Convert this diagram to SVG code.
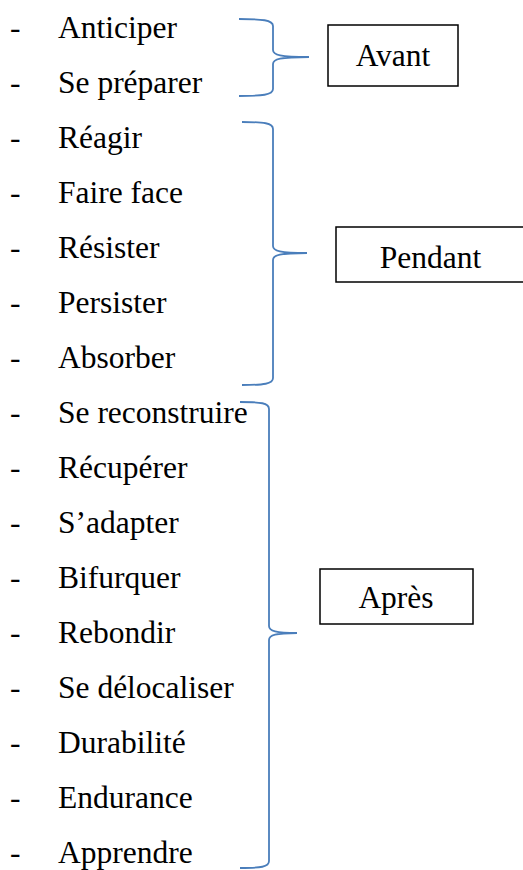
<svg xmlns="http://www.w3.org/2000/svg" width="523" height="870" viewBox="0 0 523 870">
<style>
text{font-family:"Liberation Serif","Times New Roman",serif;font-size:31.5px;fill:#000}
.box{fill:#fff;stroke:#000;stroke-width:1.5}
.brace{fill:none;stroke:#4a7ebb;stroke-width:1.8}
.c{text-anchor:middle}
</style>
<rect width="523" height="870" fill="#fff"/>
<g id="list">
<g id="item-anticiper"><text x="10" y="38">-</text><text x="58" y="38">Anticiper</text></g>
<g id="item-se-preparer"><text x="10" y="93">-</text><text x="58" y="93">Se préparer</text></g>
<g id="item-reagir"><text x="10" y="148">-</text><text x="58" y="148">Réagir</text></g>
<g id="item-faire-face"><text x="10" y="203">-</text><text x="58" y="203">Faire face</text></g>
<g id="item-resister"><text x="10" y="258">-</text><text x="58" y="258">Résister</text></g>
<g id="item-persister"><text x="10" y="313">-</text><text x="58" y="313">Persister</text></g>
<g id="item-absorber"><text x="10" y="368">-</text><text x="58" y="368">Absorber</text></g>
<g id="item-se-reconstruire"><text x="10" y="423">-</text><text x="58" y="423">Se reconstruire</text></g>
<g id="item-recuperer"><text x="10" y="478">-</text><text x="58" y="478">Récupérer</text></g>
<g id="item-s-adapter"><text x="10" y="533">-</text><text x="58" y="533">S’adapter</text></g>
<g id="item-bifurquer"><text x="10" y="588">-</text><text x="58" y="588">Bifurquer</text></g>
<g id="item-rebondir"><text x="10" y="643">-</text><text x="58" y="643">Rebondir</text></g>
<g id="item-se-delocaliser"><text x="10" y="698">-</text><text x="58" y="698">Se délocaliser</text></g>
<g id="item-durabilite"><text x="10" y="753">-</text><text x="58" y="753">Durabilité</text></g>
<g id="item-endurance"><text x="10" y="808">-</text><text x="58" y="808">Endurance</text></g>
<g id="item-apprendre"><text x="10" y="863">-</text><text x="58" y="863">Apprendre</text></g>
</g>
<g id="connectors">
<path class="brace" d="M239,19 C262,19 273,20 273,26 L273,50 C273,55 280,57 309,57 C280,57 273,59 273,64 L273,89 C273,95 262,96 239,96"/>
<path class="brace" d="M242,122 C264,122 273,123 273,129 L273,246 C273,251 280,253 307,253 C280,253 273,255 273,260 L273,378 C273,384 264,385 242,385"/>
<path class="brace" d="M240,402 C261,402 269,403 269,409 L269,626 C269,631 276,633 297,633 C276,633 269,635 269,640 L269,861 C269,867 261,868 240,868"/>
</g>
<g id="node-avant"><rect class="box" x="328" y="25" width="130" height="61"/><text class="c" x="393" y="66">Avant</text></g>
<g id="node-pendant"><rect class="box" x="336" y="227" width="200" height="55"/><text class="c" x="430.5" y="268">Pendant</text></g>
<g id="node-apres"><rect class="box" x="320" y="569" width="153" height="55"/><text class="c" x="396" y="608">Après</text></g>
</svg>
